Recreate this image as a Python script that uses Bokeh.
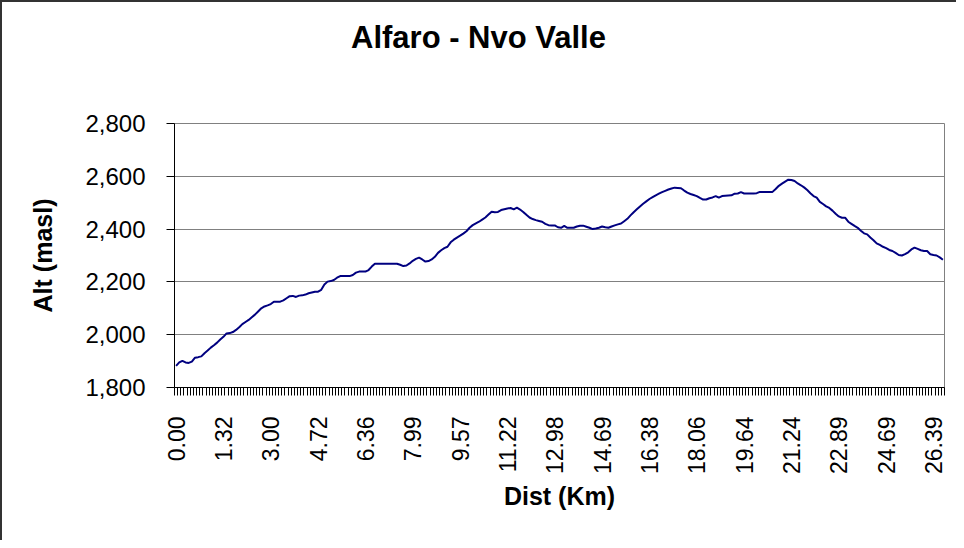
import math
from bokeh.plotting import figure
from bokeh.models import FixedTicker, NumeralTickFormatter, Range1d, Div
from bokeh.layouts import column
from bokeh.embed import file_html
from bokeh.resources import INLINE

title_text = "Alfaro - Nvo Valle"
x_title = "Dist (Km)"
y_title = "Alt (masl)"

alt = [
    1882, 1895, 1901, 1895, 1893, 1898, 1913, 1915, 1918, 1930,
    1940, 1951, 1960, 1970, 1982, 1992, 2005, 2006, 2010, 2018,
    2028, 2040, 2048, 2056, 2066, 2076, 2088, 2100, 2107, 2111,
    2116, 2125, 2125, 2125, 2130, 2138, 2146, 2147, 2143, 2148,
    2149, 2152, 2157, 2160, 2163, 2163, 2170, 2190, 2201, 2203,
    2207, 2216, 2222, 2222, 2222, 2222, 2226, 2235, 2239, 2239,
    2239, 2245, 2258, 2269, 2269, 2269, 2269, 2269, 2269, 2269,
    2269, 2265, 2260, 2262, 2270, 2280, 2287, 2292, 2285, 2277,
    2279, 2285, 2295, 2310, 2320, 2328, 2333, 2350, 2360, 2368,
    2375, 2383, 2392, 2405, 2415, 2422, 2428, 2436, 2444, 2455,
    2466, 2464, 2465, 2472, 2475, 2478, 2480, 2475, 2481, 2474,
    2465, 2454, 2444, 2438, 2434, 2431, 2428, 2420, 2415, 2414,
    2414, 2407, 2405, 2412, 2405, 2405, 2405, 2410, 2413, 2413,
    2409, 2405, 2400, 2402, 2405, 2410, 2407, 2405, 2410, 2414,
    2418, 2421, 2430, 2439, 2452, 2464, 2475, 2486, 2496, 2505,
    2514, 2521, 2528, 2534, 2540, 2545, 2550, 2554, 2557, 2556,
    2555, 2546, 2538, 2533, 2529, 2525, 2518, 2512, 2512, 2517,
    2520, 2525, 2519, 2525, 2526, 2527, 2528, 2534, 2535, 2540,
    2535, 2535, 2535, 2535, 2536, 2541, 2541, 2541, 2541, 2541,
    2552, 2564, 2572, 2580, 2587, 2586, 2582, 2573, 2566, 2558,
    2548, 2536, 2525, 2519, 2503, 2495, 2486, 2480, 2470, 2458,
    2448, 2443, 2443, 2428, 2420, 2412, 2405, 2394, 2384, 2380,
    2368, 2358, 2346, 2340, 2333, 2328, 2321, 2317, 2310, 2302,
    2300, 2305, 2312, 2323, 2330, 2325, 2320, 2317, 2317, 2305,
    2302, 2300, 2293, 2284,
]

# distance labels shown on every 15th category
dist_labels = ["0.00", "1.32", "3.00", "4.72", "6.36", "7.99", "9.57", "11.22",
               "12.98", "14.69", "16.38", "18.06", "19.64", "21.24", "22.89",
               "24.69", "26.39"]
label_step = 15
y_ticks = [1800, 2000, 2200, 2400, 2600, 2800]

n = len(alt)
idx = list(range(n))
label_pos = [k * label_step for k in range(len(dist_labels))]

FONT = "Liberation Sans"

title_div = Div(
    text=f'<div style="padding:18px 0 0 349px; font-family:\'{FONT}\'; font-size:31px; '
         f'font-weight:bold; line-height:1.15; color:black; white-space:nowrap">{title_text}</div>',
    width=954, height=90, margin=0)

p = figure(width=954, height=448, output_backend="svg", toolbar_location=None,
           title=None,
           x_range=Range1d(-0.5, n - 0.5), y_range=Range1d(y_ticks[0], y_ticks[-1]),
           min_border_left=172, min_border_right=12, min_border_top=31,
           min_border_bottom=153)

p.line(idx, alt, line_color="#000080", line_width=2)

p.outline_line_color = "#808080"
p.outline_line_width = 1
p.background_fill_color = "white"
p.border_fill_color = "white"

p.xgrid.grid_line_color = None
p.ygrid.grid_line_color = "#808080"
p.ygrid.grid_line_width = 1

xa = p.xaxis[0]
xa.ticker = FixedTicker(ticks=label_pos, minor_ticks=[i - 0.5 for i in range(n + 1)])
xa.major_label_overrides = {pos: lab for pos, lab in zip(label_pos, dist_labels)}
xa.major_tick_out = 0
xa.major_tick_in = 0
xa.minor_tick_out = 8
xa.minor_tick_in = 0
xa.minor_tick_line_color = "black"
xa.axis_line_color = "black"
xa.major_label_orientation = math.pi / 2
xa.major_label_standoff = 21
xa.major_label_text_font = FONT
xa.major_label_text_font_size = "23px"
xa.major_label_text_color = "black"
xa.axis_label = x_title
xa.axis_label_text_font = FONT
xa.axis_label_text_font_size = "25px"
xa.axis_label_text_font_style = "bold"
xa.axis_label_text_color = "black"
xa.axis_label_standoff = 5

ya = p.yaxis[0]
ya.ticker = FixedTicker(ticks=y_ticks)
ya.formatter = NumeralTickFormatter(format="0,0")
ya.major_tick_out = 8
ya.major_tick_in = 0
ya.major_tick_line_color = "black"
ya.minor_tick_line_color = None
ya.axis_line_color = "black"
ya.major_label_standoff = 21
ya.major_label_text_font = FONT
ya.major_label_text_font_size = "24px"
ya.major_label_text_color = "black"
ya.axis_label = y_title
ya.axis_label_text_font = FONT
ya.axis_label_text_font_size = "25px"
ya.axis_label_text_font_style = "bold"
ya.axis_label_text_color = "black"
ya.axis_label_standoff = 25

layout = column(title_div, p, spacing=0)
layout.styles = {"border-left": "2px solid #333333", "border-top": "2px solid #333333",
                 "background-color": "white"}

open("out.html", "w").write(file_html(layout, INLINE))
